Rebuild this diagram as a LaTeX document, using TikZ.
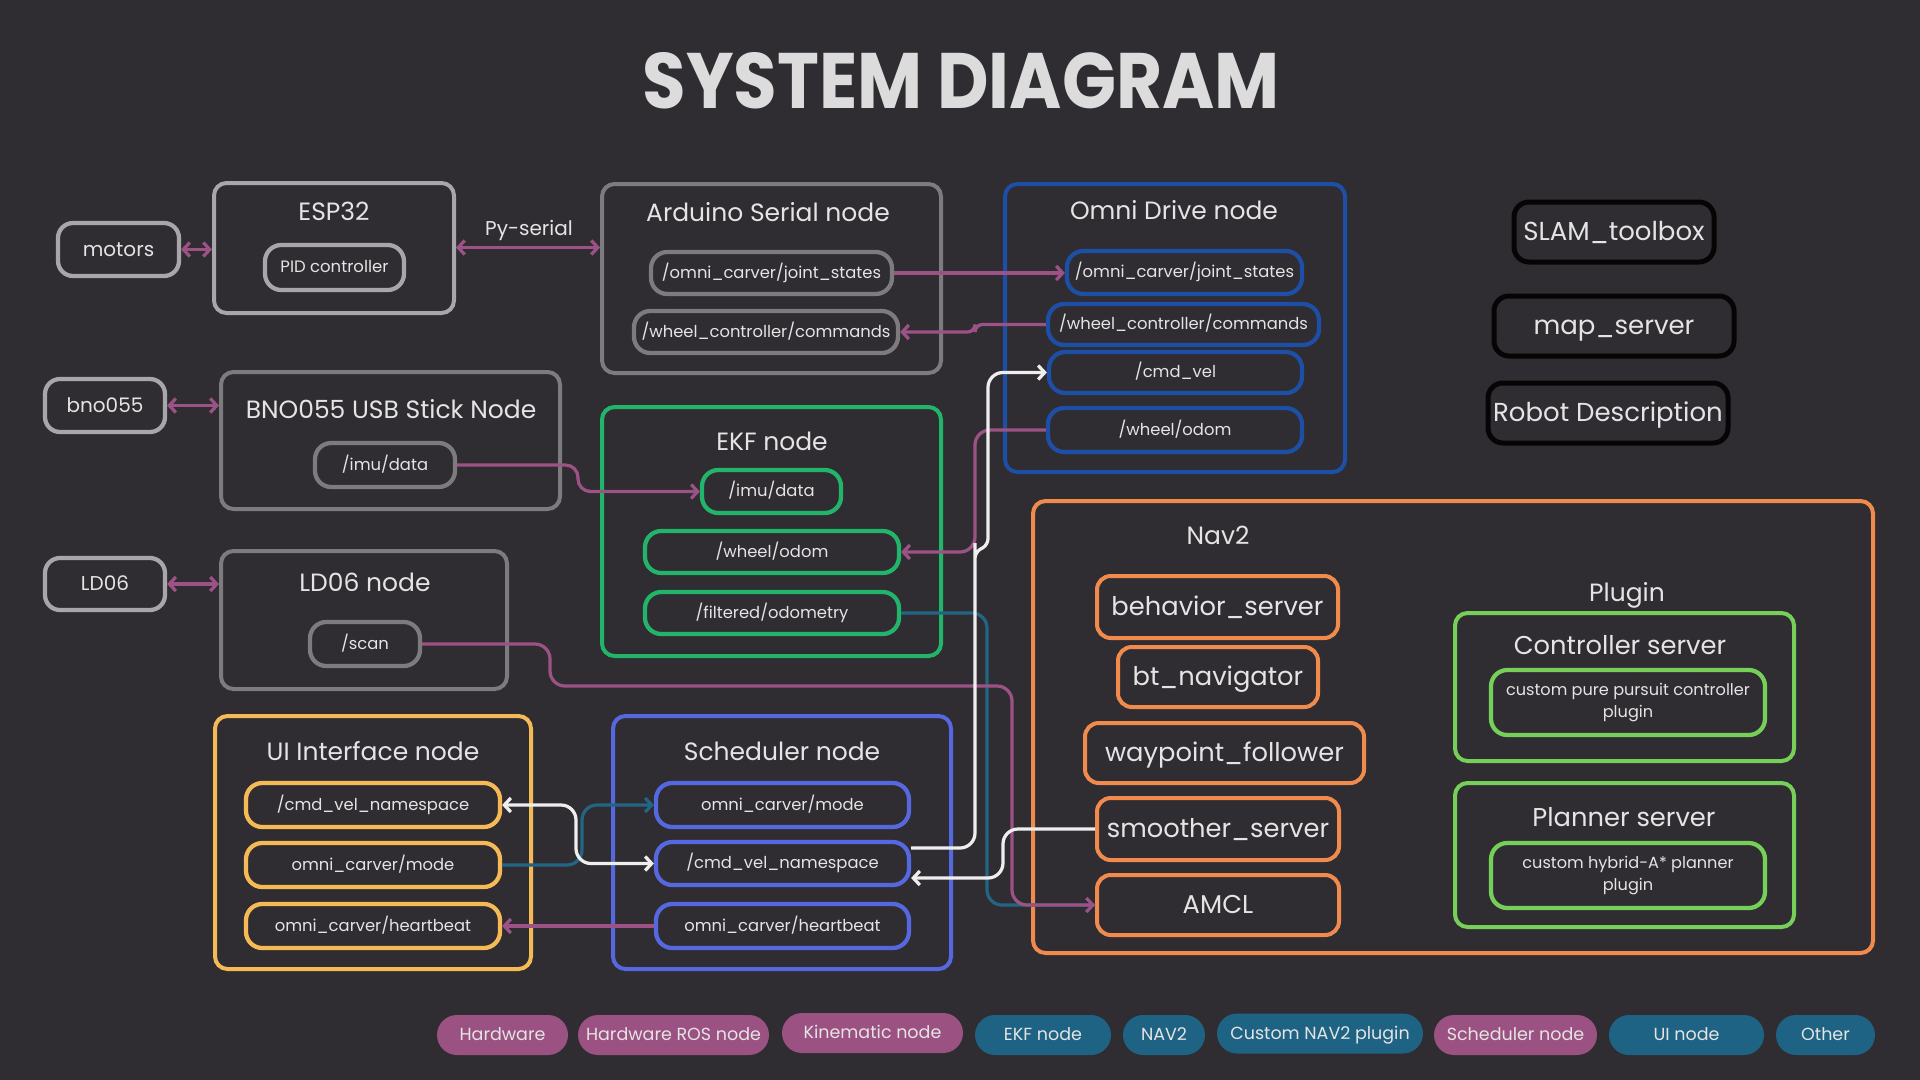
\documentclass[tikz,border=0pt]{standalone}
\usepackage{fontspec}
\setmainfont{Poppins}
\usepackage{graphicx}
\usetikzlibrary{arrows.meta,calc}
\definecolor{bg}{HTML}{2F2D31}
\definecolor{hwgray}{HTML}{A8A6AA}
\definecolor{rosgray}{HTML}{7C7B7E}
\definecolor{omniblue}{HTML}{1C4FA5}
\definecolor{ekfgreen}{HTML}{22B46B}
\definecolor{navorange}{HTML}{F08B4D}
\definecolor{plugreen}{HTML}{76CF58}
\definecolor{uiyellow}{HTML}{F5BA55}
\definecolor{schblue}{HTML}{5568E0}
\definecolor{tealc}{HTML}{226584}
\definecolor{magc}{HTML}{9C5284}
\definecolor{whtc}{HTML}{EEEEEE}
\definecolor{txt}{HTML}{E4E4E4}
\definecolor{titletxt}{HTML}{DCDCDC}
\definecolor{pillmag}{HTML}{9B5282}
\definecolor{pillteal}{HTML}{1E6383}
\definecolor{blk}{HTML}{050505}
\tikzset{
  sz/.style 2 args={minimum width=#1*0.4pt, minimum height=#2*0.4pt},
  grp/.style={draw=#1, line width=1.6pt, rounded corners=5pt, fill=bg, inner sep=0pt},
  sub/.style={draw=#1, line width=1.7pt, rounded corners=6.5pt, fill=bg, inner sep=0pt,
    font=\fontsize{6.55}{8}\selectfont, text=txt, text height=4.5pt, text depth=0.2pt},
  ttl/.style={font=\fontsize{10}{12}\selectfont, text=txt, inner sep=0pt, text height=6.9pt, text depth=0.2pt},
  navitem/.style={draw=navorange, line width=1.6pt, rounded corners=5.5pt, fill=bg, inner sep=0pt,
    font=\fontsize{10.3}{12}\selectfont, text=txt, text height=7.1pt, text depth=0.2pt},
  blkbox/.style={draw=blk, line width=2pt, rounded corners=6pt, fill=bg, inner sep=0pt,
    font=\fontsize{10.4}{12}\selectfont, text=txt, text height=7.2pt, text depth=0.2pt},
  hwbox/.style={draw=hwgray, line width=1.7pt, rounded corners=6pt, fill=bg, inner sep=0pt,
    font=\fontsize{8}{10}\selectfont, text=txt, text height=5.6pt, text depth=0.2pt},
  plugin/.style={draw=plugreen, line width=1.7pt, rounded corners=6.5pt, fill=bg, inner sep=0pt,
    font=\fontsize{6.45}{8.8}\selectfont, text=txt, align=center},
  pill/.style={fill=#1, rounded corners=8pt, inner sep=0pt, minimum height=16pt,
    font=\fontsize{7}{8}\selectfont, text=txt, text height=4.8pt, text depth=0.2pt},
  conn/.style={line width=1.3pt, draw=#1, rounded corners=5pt},
}
\begin{document}
\begin{tikzpicture}[x=0.4pt,y=-0.4pt, >={Straight Barb[length=2.6pt,width=5.6pt]}]
\fill[bg] (0,0) rectangle (1920,1080);
\useasboundingbox (0,0) rectangle (1920,1080);

% title
\node[text=titletxt, inner sep=0pt] (title) at (961,81) {\resizebox{254.8pt}{22.4pt}{\bfseries SYSTEM DIAGRAM}};

% hardware
\node[hwbox, sz={121}{53}] (motors) at (118.5,249.5) {motors};
\node[hwbox, sz={120}{53}] (bno) at (105,405.5) {bno055};
\node[hwbox, sz={120}{52}] (ld06) at (105,584) {LD06};

% ESP32
\node[grp=hwgray, sz={240}{130}] (esp) at (334,248) {};
\node[ttl] (espT) at (334,212) {ESP32};
\node[sub=hwgray, sz={139}{45}, font=\fontsize{6.6}{8}\selectfont] (pid) at (334.5,267.5) {PID controller};

% BNO055 USB
\node[grp=rosgray, sz={339}{137}] (bnousb) at (390.5,440.5) {};
\node[ttl] (bnousbT) at (391,410) {BNO055 USB Stick Node};
\node[sub=rosgray, sz={140}{44}] (imubno) at (385,465) {/imu/data};

% LD06 node
\node[grp=rosgray, sz={286}{138}] (ld06node) at (364,620) {};
\node[ttl] (ld06nodeT) at (365,583) {LD06 node};
\node[sub=rosgray, sz={110}{44}] (scan) at (365,644) {/scan};

% Arduino
\node[grp=rosgray, sz={339}{189}] (ard) at (771.5,278.5) {};
\node[ttl] (ardT) at (768,213) {Arduino Serial node};
\node[sub=rosgray, sz={241}{42}] (ardjs) at (771.5,273) {/omni\_carver/joint\_states};
\node[sub=rosgray, sz={264}{42}] (ardwcc) at (766,332) {/wheel\_controller/commands};

% EKF
\node[grp=ekfgreen, sz={339}{249}] (ekf) at (771.5,531.5) {};
\node[ttl] (ekfT) at (772,442) {EKF node};
\node[sub=ekfgreen, sz={139}{43}] (ekfimu) at (771.5,491.5) {/imu/data};
\node[sub=ekfgreen, sz={254}{42}] (ekfodom) at (772,552) {/wheel/odom};
\node[sub=ekfgreen, sz={254}{42}] (ekffilt) at (772,613) {/filtered/odometry};

% Omni drive
\node[grp=omniblue, sz={340}{288}] (omni) at (1175,328) {};
\node[ttl] (omniT) at (1174,211) {Omni Drive node};
\node[sub=omniblue, sz={235}{43}] (omnijs) at (1184.5,272.5) {/omni\_carver/joint\_states};
\node[sub=omniblue, sz={271}{41}] (omniwcc) at (1183.5,324.5) {/wheel\_controller/commands};
\node[sub=omniblue, sz={253}{41}] (cmdvel) at (1175.5,372.5) {/cmd\_vel};
\node[sub=omniblue, sz={254}{44}] (omniodom) at (1175,430) {/wheel/odom};

% black boxes
\node[blkbox, sz={200}{60}] (slam) at (1614,232) {SLAM\_toolbox};
\node[blkbox, sz={240}{60}] (mapsrv) at (1614,326) {map\_server};
\node[blkbox, sz={240}{60}] (robdesc) at (1608,413) {Robot Description};

% Nav2
\node[grp=navorange, sz={840}{452}] (nav2) at (1453,727) {};
\node[ttl] (nav2T) at (1218,536) {Nav2};
\node[navitem, sz={241}{62}] (behavior) at (1217.5,607) {behavior\_server};
\node[navitem, sz={200}{60}] (btnav) at (1218,677) {bt\_navigator};
\node[navitem, sz={279}{60}] (waypoint) at (1224.5,753) {waypoint\_follower};
\node[navitem, sz={242}{62}] (smoother) at (1218,829) {smoother\_server};
\node[navitem, sz={242}{60}] (amcl) at (1218,905) {AMCL};

% Plugin
\node[ttl] (pluginT) at (1627,593) {Plugin};
\node[grp=plugreen, sz={339}{148}] (ctrl) at (1624.5,687) {};
\node[ttl, font=\fontsize{10.3}{12}\selectfont] (ctrlT) at (1620,646) {Controller server};
\node[plugin, sz={274}{65}] (ctrlin) at (1628,702.5) {custom pure pursuit controller\\plugin};
\node[grp=plugreen, sz={339}{144}] (plan) at (1624.5,855) {};
\node[ttl, font=\fontsize{10.3}{12}\selectfont] (planT) at (1624,818) {Planner server};
\node[plugin, sz={274}{65}] (planin) at (1628,875.5) {custom hybrid-A* planner\\plugin};

% UI
\node[grp=uiyellow, sz={316}{253}] (ui) at (373,842.5) {};
\node[ttl] (uiT) at (373,752) {UI Interface node};
\node[sub=uiyellow, sz={254}{44}] (uins) at (373,805) {/cmd\_vel\_namespace};
\node[sub=uiyellow, sz={254}{44}] (uimode) at (373,865) {omni\_carver/mode};
\node[sub=uiyellow, sz={254}{44}] (uihb) at (373,926) {omni\_carver/heartbeat};

% Scheduler
\node[grp=schblue, sz={338}{253}] (sch) at (782,842.5) {};
\node[ttl] (schT) at (782,752) {Scheduler node};
\node[sub=schblue, sz={253}{44}] (schmode) at (782.5,805) {omni\_carver/mode};
\node[sub=schblue, sz={253}{43}] (schns) at (782.5,863.5) {/cmd\_vel\_namespace};
\node[sub=schblue, sz={253}{44}] (schhb) at (782.5,926) {omni\_carver/heartbeat};

% legend
\node[pill=pillmag, sz={131}{40}] (lg1) at (502.5,1035) {Hardware};
\node[pill=pillmag, sz={191}{40}] (lg2) at (673.5,1035) {Hardware ROS node};
\node[pill=pillmag, sz={181}{40}] (lg3) at (872.5,1033) {Kinematic node};
\node[pill=pillteal, sz={136}{40}] (lg4) at (1043,1035) {EKF node};
\node[pill=pillteal, sz={82}{40}] (lg5) at (1164,1035) {NAV2};
\node[pill=pillteal, sz={206}{40}] (lg6) at (1320,1033.5) {Custom NAV2 plugin};
\node[pill=pillmag, sz={163}{40}] (lg7) at (1515.5,1035) {Scheduler node};
\node[pill=pillteal, sz={155}{40}] (lg8) at (1686.5,1035) {UI node};
\node[pill=pillteal, sz={99}{40}] (lg9) at (1825.5,1035) {Other};

% ---------- connectors ----------
\draw[conn=magc, <->] (motors.east) -- (motors.east -| esp.west);
\draw[conn=magc, <->] ([yshift=0.2pt]esp.east) -- ([yshift=0.2pt]esp.east -| ard.west);
\node[font=\fontsize{8}{10}\selectfont, text=txt, inner sep=0pt] (pyserial) at (529,230) {Py-serial};
\draw[conn=magc, <->] (bno.east) -- (bno.east -| bnousb.west);
\draw[conn=magc, <->] (ld06.east) -- (ld06.east -| ld06node.west);

\draw[conn=magc, ->] (ardjs.east) -- (ardjs.east -| omnijs.west);
\draw[conn=magc, ->, rounded corners=3pt] (omniwcc.west) -- (975,324.5) -- (975,332) -- (ardwcc.east);
\draw[conn=magc, ->, rounded corners=5pt] (imubno.east) -- (578,465) -- (578,491.5) -- (ekfimu.west);

% teal filtered odometry -> AMCL
\draw[conn=tealc, rounded corners=6pt] (ekffilt.east) -- (987,613) -- (987,905) -- (amcl.west);
% magenta scan -> AMCL
\draw[conn=magc, ->, rounded corners=6pt] (scan.east) -- (550,644) -- (550,686) -- (1012,686) -- (1012,905) -- (amcl.west);
% magenta wheel odom
\draw[conn=magc, ->, rounded corners=6pt] (omniodom.west) -- (975,430) -- (975,552) -- (ekfodom.east);
% white scheduler -> cmd_vel
\draw[conn=whtc, ->, rounded corners=6pt] ([yshift=6.2pt]schns.east) -- (975,848) -- (975,558) [rounded corners=2.5pt] -- (975,552) -- (988,545) [rounded corners=6pt] -- (988,372.5) -- (cmdvel.west);
% white smoother -> scheduler
\draw[conn=whtc, ->, rounded corners=6pt] (smoother.west) -- (1003,829) -- (1003,878) -- ([yshift=-5.8pt]schns.east);

% UI <-> scheduler
\draw[conn=tealc, ->, rounded corners=6pt] (uimode.east) -- (582,865) -- (582,805) -- (schmode.west);
\draw[conn=whtc, <->, rounded corners=6pt] (uins.east) -- (576,805) -- (576,863.5) -- (schns.west);
\draw[conn=magc, ->] (schhb.west) -- (uihb.east);
\end{tikzpicture}
\end{document}
